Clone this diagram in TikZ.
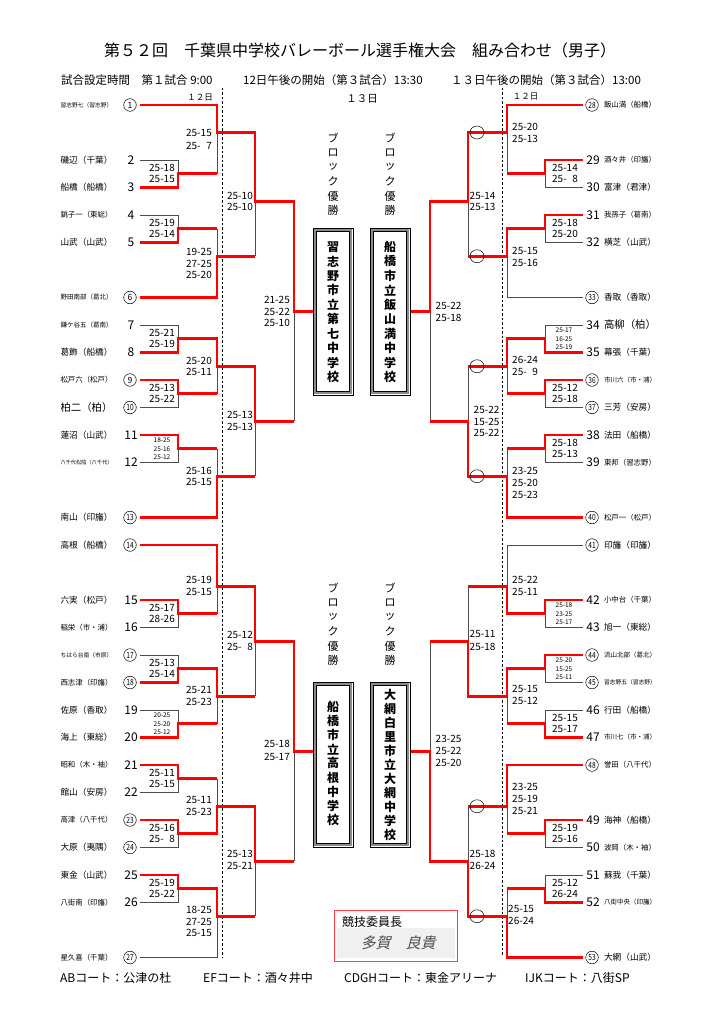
\documentclass[tikz,border=0pt]{standalone}
\usepackage{fontspec}
\usepackage{graphicx}
\setmainfont{Noto Sans CJK JP}
\newfontfamily\sigfont[FakeSlant=0.25]{Noto Sans CJK JP}
\newcommand\fitname[1]{\resizebox{52pt}{!}{\fontsize{10}{12}\selectfont #1}}
\newcommand\circnum[1]{\ifnum#1>9 \scalebox{0.78}[1]{#1}\else #1\fi}
\newcommand\dg{\hphantom{0}}
\tikzset{
  gl/.style={draw=black!70, line width=0.8pt},
  rl/.style={draw=red, line width=2.6pt, line join=miter},
  sc/.style={font=\fontsize{10}{10}\selectfont, inner sep=0pt},
  ssc/.style={font=\fontsize{6.5}{6.5}\selectfont, inner sep=0pt},
  pnum/.style={font=\fontsize{12}{12}\selectfont, inner sep=0pt},
  cnum/.style={circle, draw, line width=0.5pt, minimum size=12.6pt, inner sep=0pt, font=\fontsize{8.5}{8.5}\selectfont},
  nm/.style={inner sep=0pt},
  oval/.style={draw, line width=0.5pt},
  vt/.style={font=\fontsize{11}{11}\selectfont, inner sep=0pt},
  bt/.style={font=\fontsize{12}{12}\selectfont\bfseries, inner sep=0pt},
  dl/.style={draw=black, line width=0.6pt, dash pattern=on 2.5pt off 2pt},
}
\newcommand\TeamLp[3]{\node[pnum] (t#2) at (131,#1) {#2}; \node[nm] (n#2) at (86.5,#1) {\fitname{#3}};}
\newcommand\TeamLc[3]{\node[cnum] (t#2) at (130,#1) {\circnum{#2}}; \node[nm] (n#2) at (86.5,#1) {\fitname{#3}};}
\newcommand\TeamRp[3]{\node[pnum] (t#2) at (593,#1) {#2}; \node[nm] (n#2) at (630,#1) {\fitname{#3}};}
\newcommand\TeamRc[3]{\node[cnum] (t#2) at (592,#1) {\circnum{#2}}; \node[nm] (n#2) at (630,#1) {\fitname{#3}};}
\newcommand\blockbox[4]{%
  \draw[black, line width=0.5pt] (#1,#2) rectangle (#3,#4);
  \draw[black!45, line width=1.6pt] (#1+2,#2+2) rectangle (#3-2,#4-2);
  \draw[black, line width=0.5pt] (#1+3.6,#2+3.6) rectangle (#3-3.6,#4-3.6);}
\begin{document}
\begin{tikzpicture}[x=1pt,y=-1pt]
\useasboundingbox (0,0) rectangle (724,1024);
\fill[white] (0,0) rectangle (724,1024);

% ---------- header ----------
\node[font=\fontsize{16}{16}\selectfont, inner sep=0pt] (title) at (360,50) {第５２回　千葉県中学校バレーボール選手権大会　組み合わせ（男子）};
\node[font=\fontsize{11.5}{11.5}\selectfont, inner sep=0pt, anchor=west] (sub1) at (61,80) {試合設定時間　第１試合 9:00};
\node[font=\fontsize{11.5}{11.5}\selectfont, inner sep=0pt, anchor=west] (sub2) at (243,80) {12日午後の開始（第３試合）13:30};
\node[font=\fontsize{11.5}{11.5}\selectfont, inner sep=0pt, anchor=west] (sub3) at (451,80) {１３日午後の開始（第３試合）13:00};
\node[font=\fontsize{8.5}{8.5}\selectfont, inner sep=0pt] (d12l) at (200,98) {１２日};
\node[font=\fontsize{8.5}{8.5}\selectfont, inner sep=0pt] (d12r) at (525.5,97) {１２日};
\node[font=\fontsize{10.5}{10.5}\selectfont, inner sep=0pt] (d13) at (362,99) {１３日};

% dashed day separators
\draw[dl] (222,88) -- (222,958);
\draw[dl] (502,88) -- (502,955);

% ---------- gray structure ----------
\foreach \y in {160,187.5,215,242.5,325,352.5,380,407.5,435,462.5,600,627.5,655,682.5,710,737.5,765,792.5,820,847.5,875,902.5}
  \draw[gl] (140,\y) -- (178,\y);
\foreach \y in {105,297.5,517.5,545,957.5}
  \draw[gl] (140,\y) -- (217,\y);
\foreach \y in {160,187.5,215,242.5,325,352.5,380,407.5,435,462.5,600,627.5,655,682.5,710,737.5,820,847.5,875,902.5}
  \draw[gl] (583,\y) -- (545,\y);
\foreach \y in {105,297.5,517.5,545,765,957.5}
  \draw[gl] (583,\y) -- (507,\y);
\foreach \a/\b in {160/187.5,215/242.5,325/352.5,380/407.5,435/462.5,600/627.5,655/682.5,710/737.5,765/792.5,820/847.5,875/902.5}
  \draw[gl] (178,\a) -- (178,\b);
\foreach \a/\b in {105/173.75,228.75/297.5,338.75/393.75,448.75/517.5,545/613.75,668.75/723.75,778.75/833.75,888.75/957.5}
  \draw[gl] (217,\a) -- (217,\b);
\foreach \a/\b in {132.5/256.25,366.25/476.25,586.25/696.25,806.25/916.25}
  {\draw[gl] (255,\a) -- (255,\b); \draw[gl] (468,\a) -- (468,\b);}
\foreach \a/\b in {201.25/421.25,641.25/861.25}
  {\draw[gl] (294,\a) -- (294,\b); \draw[gl] (430,\a) -- (430,\b);}
\foreach \a/\b in {160/187.5,215/242.5,325/352.5,380/407.5,435/462.5,600/627.5,655/682.5,710/737.5,820/847.5,875/902.5}
  \draw[gl] (545,\a) -- (545,\b);
\foreach \a/\b in {105/173.75,228.75/297.5,338.75/393.75,448.75/517.5,545/613.75,668.75/723.75,765/833.75,888.75/957.5}
  \draw[gl] (507,\a) -- (507,\b);

% ---------- red winner paths : left ----------
\draw[rl] (140,105)--(217,105)--(217,132.5)--(255,132.5)--(255,201.25)--(294,201.25)--(294,311.25)--(313,311.25);
\draw[rl] (140,187.5)--(178,187.5)--(178,173.75)--(217,173.75);
\draw[rl] (140,242.5)--(178,242.5)--(178,228.75)--(217,228.75);
\draw[rl] (140,297.5)--(217,297.5)--(217,256.25)--(255,256.25);
\draw[rl] (140,352.5)--(178,352.5)--(178,338.75)--(217,338.75)--(217,366.25)--(255,366.25)--(255,421.25)--(294,421.25);
\draw[rl] (140,380)--(178,380)--(178,393.75)--(217,393.75);
\draw[rl] (140,435)--(178,435)--(178,448.75)--(217,448.75);
\draw[rl] (140,517.5)--(217,517.5)--(217,476.25)--(255,476.25);
\draw[rl] (140,545)--(217,545)--(217,586.25)--(255,586.25)--(255,641.25)--(294,641.25)--(294,751.25)--(313,751.25);
\draw[rl] (140,600)--(178,600)--(178,613.75)--(217,613.75);
\draw[rl] (140,682.5)--(178,682.5)--(178,668.75)--(217,668.75)--(217,696.25)--(255,696.25);
\draw[rl] (140,737.5)--(178,737.5)--(178,723.75)--(217,723.75);
\draw[rl] (140,765)--(178,765)--(178,778.75)--(217,778.75);
\draw[rl] (140,820)--(178,820)--(178,833.75)--(217,833.75)--(217,806.25)--(255,806.25)--(255,861.25)--(294,861.25);
\draw[rl] (140,875)--(178,875)--(178,888.75)--(217,888.75)--(217,916.25)--(255,916.25);

% ---------- red winner paths : right ----------
\draw[rl] (583,105)--(507,105)--(507,132.5)--(468,132.5)--(468,201.25)--(430,201.25)--(430,311.25)--(410,311.25);
\draw[rl] (583,160)--(545,160)--(545,173.75)--(507,173.75);
\draw[rl] (583,215)--(545,215)--(545,228.75)--(507,228.75)--(507,256.25)--(468,256.25);
\draw[rl] (583,352.5)--(545,352.5)--(545,338.75)--(507,338.75)--(507,366.25)--(468,366.25);
\draw[rl] (583,380)--(545,380)--(545,393.75)--(507,393.75);
\draw[rl] (583,435)--(545,435)--(545,448.75)--(507,448.75);
\draw[rl] (583,517.5)--(507,517.5)--(507,476.25)--(468,476.25)--(468,421.25)--(430,421.25);
\draw[rl] (583,600)--(545,600)--(545,613.75)--(507,613.75)--(507,586.25)--(468,586.25);
\draw[rl] (583,655)--(545,655)--(545,668.75)--(507,668.75)--(507,696.25)--(468,696.25)--(468,641.25)--(430,641.25);
\draw[rl] (583,737.5)--(545,737.5)--(545,723.75)--(507,723.75);
\draw[rl] (583,765)--(507,765)--(507,806.25)--(468,806.25);
\draw[rl] (583,820)--(545,820)--(545,833.75)--(507,833.75);
\draw[rl] (583,902.5)--(545,902.5)--(545,888.75)--(507,888.75);
\draw[rl] (583,957.5)--(507,957.5)--(507,916.25)--(468,916.25)--(468,861.25)--(430,861.25)--(430,751.25)--(410,751.25);

% ovals
\foreach \y in {132.5,256.25,366.25,476.25,806.25,916.25}
  \draw[oval] (477,\y) ellipse [x radius=7, y radius=6.5];

% ---------- teams left ----------
\TeamLc{105}{1}{習志野七（習志野）}
\TeamLp{160}{2}{磯辺（千葉）}
\TeamLp{187.5}{3}{船橋（船橋）}
\TeamLp{215}{4}{銚子一（東総）}
\TeamLp{242.5}{5}{山武（山武）}
\TeamLc{297.5}{6}{野田南部（葛北）}
\TeamLp{325}{7}{鎌ケ谷五（葛南）}
\TeamLp{352.5}{8}{葛飾（船橋）}
\TeamLc{380}{9}{松戸六（松戸）}
\TeamLc{407.5}{10}{柏二（柏）}
\TeamLp{435}{11}{蓮沼（山武）}
\TeamLp{462.5}{12}{八千代松陰（八千代）}
\TeamLc{517.5}{13}{南山（印旛）}
\TeamLc{545}{14}{高根（船橋）}
\TeamLp{600}{15}{六実（松戸）}
\TeamLp{627.5}{16}{稲栄（市・浦）}
\TeamLc{655}{17}{ちはら台南（市原）}
\TeamLc{682.5}{18}{西志津（印旛）}
\TeamLp{710}{19}{佐原（香取）}
\TeamLp{737.5}{20}{海上（東総）}
\TeamLp{765}{21}{昭和（木・袖）}
\TeamLp{792.5}{22}{館山（安房）}
\TeamLc{820}{23}{高津（八千代）}
\TeamLc{847.5}{24}{大原（夷隅）}
\TeamLp{875}{25}{東金（山武）}
\TeamLp{902.5}{26}{八街南（印旛）}
\TeamLc{957.5}{27}{星久喜（千葉）}

% ---------- teams right ----------
\TeamRc{105}{28}{飯山満（船橋）}
\TeamRp{160}{29}{酒々井（印旛）}
\TeamRp{187.5}{30}{富津（君津）}
\TeamRp{215}{31}{我孫子（葛南）}
\TeamRp{242.5}{32}{横芝（山武）}
\TeamRc{297.5}{33}{香取（香取）}
\TeamRp{325}{34}{高柳（柏）}
\TeamRp{352.5}{35}{幕張（千葉）}
\TeamRc{380}{36}{市川六（市・浦）}
\TeamRc{407.5}{37}{三芳（安房）}
\TeamRp{435}{38}{法田（船橋）}
\TeamRp{462.5}{39}{東邦（習志野）}
\TeamRc{517.5}{40}{松戸一（松戸）}
\TeamRc{545}{41}{印旛（印旛）}
\TeamRp{600}{42}{小中台（千葉）}
\TeamRp{627.5}{43}{旭一（東総）}
\TeamRc{655}{44}{流山北部（葛北）}
\TeamRc{682.5}{45}{習志野五（習志野）}
\TeamRp{710}{46}{行田（船橋）}
\TeamRp{737.5}{47}{市川七（市・浦）}
\TeamRc{765}{48}{誉田（八千代）}
\TeamRp{820}{49}{海神（船橋）}
\TeamRp{847.5}{50}{波岡（木・袖）}
\TeamRp{875}{51}{蘇我（千葉）}
\TeamRp{902.5}{52}{八街中央（印旛）}
\TeamRc{957.5}{53}{大網（山武）}

% ---------- scores : left round 1 ----------
\foreach \o/\s/\t in {173.75/25-18/25-15, 228.75/25-19/25-14, 338.75/25-21/25-19, 393.75/25-13/25-22, 613.75/25-17/28-26, 668.75/25-13/25-14, 778.75/25-11/25-15, 833.75/25-16/25-\dg8, 888.75/25-19/25-22}
  {\node[sc] at (162,\o-5.6) {\s}; \node[sc] at (162,\o+5.6) {\t};}
\foreach \o/\s/\t/\u in {448.75/18-25/25-16/25-12, 723.75/20-25/25-20/25-12}
  {\node[ssc] at (162,\o-8.8) {\s}; \node[ssc] at (162,\o) {\t}; \node[ssc] at (162,\o+8.8) {\u};}
% left round 2
\node[sc,anchor=east] at (212,133) {25-15};
\node[sc,anchor=east] at (212,146) {25-\dg7};
\node[sc,anchor=east] at (212,252) {19-25};
\node[sc,anchor=east] at (212,263.5) {27-25};
\node[sc,anchor=east] at (212,275) {25-20};
\node[sc,anchor=east] at (212,361) {25-20};
\node[sc,anchor=east] at (212,372) {25-11};
\node[sc,anchor=east] at (212,471) {25-16};
\node[sc,anchor=east] at (212,482) {25-15};
\node[sc,anchor=east] at (212,580) {25-19};
\node[sc,anchor=east] at (212,592) {25-15};
\node[sc,anchor=east] at (212,690) {25-21};
\node[sc,anchor=east] at (212,702) {25-23};
\node[sc,anchor=east] at (212,800) {25-11};
\node[sc,anchor=east] at (212,812) {25-23};
\node[sc,anchor=east] at (212,910) {18-25};
\node[sc,anchor=east] at (212,921.5) {27-25};
\node[sc,anchor=east] at (212,933) {25-15};
% left round 3
\node[sc,anchor=east] at (253,196) {25-10};
\node[sc,anchor=east] at (253,207) {25-10};
\node[sc,anchor=east] at (253,415) {25-13};
\node[sc,anchor=east] at (253,427) {25-13};
\node[sc,anchor=east] at (253,635) {25-12};
\node[sc,anchor=east] at (253,647) {25-\dg8};
\node[sc,anchor=east] at (253,854) {25-13};
\node[sc,anchor=east] at (253,866) {25-21};
% left finals
\node[sc,anchor=east] at (290,300) {21-25};
\node[sc,anchor=east] at (290,311.5) {25-22};
\node[sc,anchor=east] at (290,323) {25-10};
\node[sc,anchor=east] at (290,744) {25-18};
\node[sc,anchor=east] at (290,756.5) {25-17};

% ---------- scores : right round 1 ----------
\foreach \o/\s/\t in {173.75/25-14/25-\dg8, 228.75/25-18/25-20, 393.75/25-12/25-18, 448.75/25-18/25-13, 723.75/25-15/25-17, 833.75/25-19/25-16, 888.75/25-12/26-24}
  {\node[sc] at (565,\o-5.6) {\s}; \node[sc] at (565,\o+5.6) {\t};}
\foreach \o/\s/\t/\u in {338.75/25-17/16-25/25-19, 613.75/25-18/23-25/25-17, 668.75/25-20/15-25/25-11}
  {\node[ssc] at (564,\o-8.8) {\s}; \node[ssc] at (564,\o) {\t}; \node[ssc] at (564,\o+8.8) {\u};}
% right round 2
\node[sc,anchor=west] at (512,127) {25-20};
\node[sc,anchor=west] at (512,139) {25-13};
\node[sc,anchor=west] at (512,251) {25-15};
\node[sc,anchor=west] at (512,263) {25-16};
\node[sc,anchor=west] at (512,360) {26-24};
\node[sc,anchor=west] at (512,372) {25-\dg9};
\node[sc,anchor=west] at (512,471) {23-25};
\node[sc,anchor=west] at (512,483) {25-20};
\node[sc,anchor=west] at (512,495) {25-23};
\node[sc,anchor=west] at (512,580) {25-22};
\node[sc,anchor=west] at (512,592) {25-11};
\node[sc,anchor=west] at (512,689) {25-15};
\node[sc,anchor=west] at (512,701) {25-12};
\node[sc,anchor=west] at (512,787) {23-25};
\node[sc,anchor=west] at (512,799) {25-19};
\node[sc,anchor=west] at (512,811) {25-21};
\node[sc,anchor=west] at (508,909) {25-15};
\node[sc,anchor=west] at (508,921) {26-24};
% right round 3
\node[sc,anchor=west] at (469.5,196) {25-14};
\node[sc,anchor=west] at (469.5,207) {25-13};
\node[sc,anchor=west] at (473.5,410) {25-22};
\node[sc,anchor=west] at (473.5,421.5) {15-25};
\node[sc,anchor=west] at (473.5,432.5) {25-22};
\node[sc,anchor=west] at (469.5,634) {25-11};
\node[sc,anchor=west] at (469.5,647) {25-18};
\node[sc,anchor=west] at (469.5,854) {25-18};
\node[sc,anchor=west] at (469.5,866) {26-24};
% right finals
\node[sc,anchor=west] at (435.5,306) {25-22};
\node[sc,anchor=west] at (435.5,318) {25-18};
\node[sc,anchor=west] at (435.5,739) {23-25};
\node[sc,anchor=west] at (435.5,751) {25-22};
\node[sc,anchor=west] at (435.5,763) {25-20};

% ---------- block winners ----------
\foreach \c [count=\i from 0] in {ブ,ロ,ッ,ク,優,勝}
  {\node[vt] at (333,138+14.5*\i) {\c}; \node[vt] at (390,138+14.5*\i) {\c};
   \node[vt] at (333,588+14.5*\i) {\c}; \node[vt] at (390,588+14.5*\i) {\c};}
\blockbox{313}{228}{353}{395}
\blockbox{370}{228}{410}{395}
\blockbox{313}{682}{353}{847}
\blockbox{370}{682}{410}{847}
\foreach \c [count=\i from 0] in {習,志,野,市,立,第,七,中,学,校}
  \node[bt] at (333,247+14.44*\i) {\c};
\foreach \c [count=\i from 0] in {船,橋,市,立,飯,山,満,中,学,校}
  \node[bt] at (390,247+14.44*\i) {\c};
\foreach \c [count=\i from 0] in {船,橋,市,立,高,根,中,学,校}
  \node[bt] at (333,707+14.1*\i) {\c};
\foreach \c [count=\i from 0] in {大,網,白,里,市,立,大,網,中,学,校}
  \node[bt] at (390,695+14*\i) {\c};

% ---------- committee ----------
\fill[black!6] (337,928) rectangle (455,958);
\draw[red!75, line width=1pt] (334,910) rectangle (457,961);
\node[font=\fontsize{12}{12}\selectfont, inner sep=0pt, anchor=west] (iin) at (342,922) {競技委員長};
\node[font=\sigfont\fontsize{15}{15}\selectfont, text=black!70, inner sep=0pt] (sig) at (398,943) {多賀　良貴};

% ---------- footer ----------
\node[font=\fontsize{12}{12}\selectfont, inner sep=0pt, anchor=west] (fa) at (60,978) {ABコート：公津の杜};
\node[font=\fontsize{12}{12}\selectfont, inner sep=0pt, anchor=west] (fb) at (203,978) {EFコート：酒々井中};
\node[font=\fontsize{12}{12}\selectfont, inner sep=0pt, anchor=west] (fc) at (344,978) {CDGHコート：東金アリーナ};
\node[font=\fontsize{12}{12}\selectfont, inner sep=0pt, anchor=west] (fd) at (525,978) {IJKコート：八街SP};
\end{tikzpicture}
\end{document}
